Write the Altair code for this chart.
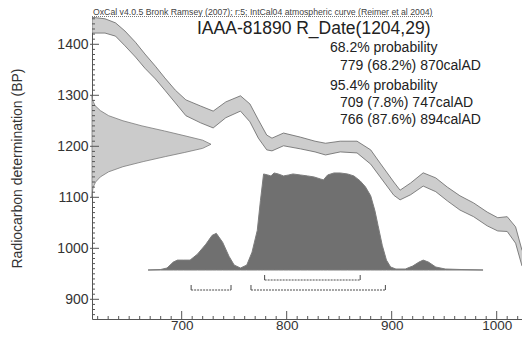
import altair as alt
import pandas as pd

# ---------------- data ----------------
# IntCal04 calibration band (calendar year AD, upper / lower BP)
cal_years = [614.6, 627, 637, 646, 656, 665, 675, 684, 694, 704, 718, 730, 742, 756,
             765, 773, 781, 786, 797, 813, 827, 837, 851, 867, 880, 889, 902, 908,
             918, 930, 942, 953, 965, 978, 991, 1001, 1010, 1018, 1024, 1032]
cal_upper = [1453, 1450, 1442, 1426, 1404, 1381, 1357, 1334, 1310, 1291, 1279, 1269, 1287, 1299,
             1283, 1252, 1222, 1216, 1226, 1218, 1210, 1206, 1210, 1210, 1193, 1167, 1130, 1114,
             1128, 1148, 1138, 1120, 1103, 1089, 1071, 1060, 1062, 1042, 997, 973]
cal_lower = [1422, 1422, 1416, 1397, 1375, 1353, 1332, 1310, 1285, 1260, 1246, 1236, 1256, 1269,
             1248, 1216, 1193, 1191, 1201, 1195, 1189, 1183, 1189, 1187, 1165, 1140, 1104, 1095,
             1105, 1122, 1111, 1093, 1075, 1062, 1044, 1034, 1033, 1010, 966, 942]

# Radiocarbon date distribution on the BP axis (relative density)
bp_levels = [1300, 1290, 1280, 1270, 1260, 1250, 1240, 1230, 1220, 1212, 1204,
             1196, 1188, 1180, 1170, 1160, 1150, 1140, 1130, 1120, 1110, 1100]
bp_density = [0.0, 0.006, 0.025, 0.07, 0.14, 0.26, 0.42, 0.61, 0.79, 0.93, 1.0,
              0.93, 0.78, 0.62, 0.43, 0.26, 0.14, 0.07, 0.03, 0.01, 0.003, 0.0]

# Calibrated date distribution (relative probability)
cd_years = [668, 680, 686, 692, 696, 702, 708, 715, 723, 729, 733, 739, 745, 750, 756,
            762, 767, 772, 775, 778, 782, 785, 788, 792, 797, 802, 806, 813, 820, 826,
            832, 835, 839, 845, 851, 858, 864, 870, 875, 880, 884, 887, 891, 895, 899,
            904, 913, 920, 926, 930, 935, 942, 951, 966, 987]
cd_prob = [0.0, 0.005, 0.02, 0.08, 0.10, 0.10, 0.10, 0.16, 0.26, 0.35, 0.37, 0.28, 0.14, 0.05, 0.02,
           0.05, 0.18, 0.40, 0.70, 0.97, 0.96, 0.95, 0.98, 0.97, 0.95, 0.96, 0.97, 0.96, 0.95, 0.94,
           0.92, 0.91, 0.96, 0.98, 0.98, 0.97, 0.95, 0.90, 0.84, 0.75, 0.60, 0.45, 0.25, 0.10, 0.03,
           0.01, 0.01, 0.04, 0.08, 0.10, 0.08, 0.03, 0.01, 0.005, 0.0]

# Highest probability ranges (cal AD)
r68_start = [779]
r68_end = [870]
r95_start = [709, 766]
r95_end = [747, 894]

# Axis ticks
x_major = [700, 800, 900, 1000]
y_major = [900, 1000, 1100, 1200, 1300, 1400]
x_minor = [v for v in range(620, 1021, 10) if v % 100 != 0]
y_minor = [v for v in range(870, 1451, 10) if v % 100 != 0]

header = "OxCal v4.0.5 Bronk Ramsey (2007); r:5; IntCal04 atmospheric curve (Reimer et al 2004)"
title = "IAAA-81890 R_Date(1204,29)"
lines_head = ["68.2% probability", "95.4% probability"]
lines_range = ["779 (68.2%) 870calAD", "709 (7.8%) 747calAD", "766 (87.6%) 894calAD"]

# ---------------- chart ----------------
W, H = 430, 302
FONT = "Liberation Sans"
AX = "#555555"

xs = alt.Scale(domain=[614.6, 1024.1], nice=False, zero=False)
ys = alt.Scale(domain=[861.4, 1453.5], nice=False, zero=False)

band_df = pd.DataFrame({"year": cal_years, "upper": cal_upper, "lower": cal_lower})
band = alt.Chart(band_df).mark_area(
    fill="#cdcdcd", stroke="#666666", strokeWidth=0.8, clip=True
).encode(
    x=alt.X("year:Q", scale=xs, title=None,
            axis=alt.Axis(values=x_major, ticks=False, grid=False, domainColor=AX,
                          labelFont=FONT, labelFontSize=13.5, labelColor="#333",
                          labelPadding=-1, format="d")),
    y=alt.Y("upper:Q", scale=ys,
            axis=alt.Axis(values=y_major, ticks=False, grid=False, domainColor=AX,
                          labelFont=FONT, labelFontSize=14, labelColor="#333",
                          labelPadding=4, format="d",
                          title="Radiocarbon determination (BP)",
                          titleFont=FONT, titleFontSize=14, titleFontWeight="normal",
                          titleColor="#333", titleX=-75, titleY=H / 2, titleAngle=270,
                          titleAlign="center", titleBaseline="middle")),
    y2="lower:Q",
)

bp_df = pd.DataFrame({"bp": bp_levels, "d": bp_density})
bp_area = alt.Chart(bp_df).mark_area(
    orient="horizontal", fill="#cbcbcb", stroke="#7a7a7a", strokeWidth=0.8
).encode(
    y=alt.Y("bp:Q", scale=ys, axis=None),
    x=alt.X("d:Q", scale=alt.Scale(domain=[0, 1], range=[0, 119], nice=False), axis=None, stack=None),
)

cd_df = pd.DataFrame({"year": cd_years, "p": cd_prob})
cd_area = alt.Chart(cd_df).mark_area(
    fill="#707070", stroke="#7c7c7c", strokeWidth=1
).encode(
    x=alt.X("year:Q", scale=xs, axis=None),
    y=alt.Y("p:Q", scale=alt.Scale(domain=[0, 1], range=[253, 154], nice=False), axis=None, stack=None),
)

r68_df = pd.DataFrame({"s": r68_start, "e": r68_end})
r95_df = pd.DataFrame({"s": r95_start, "e": r95_end})
BR = "#4a4a4a"
r68_line = alt.Chart(r68_df).mark_rule(color=BR, strokeWidth=1, strokeDash=[2, 1]).encode(
    x=alt.X("s:Q", scale=xs, axis=None), x2="e:Q", y=alt.value(263))
r95_line = alt.Chart(r95_df).mark_rule(color=BR, strokeWidth=1, strokeDash=[2, 1]).encode(
    x=alt.X("s:Q", scale=xs, axis=None), x2="e:Q", y=alt.value(273))
r68_ends = alt.Chart(pd.DataFrame({"v": r68_start + r68_end})).mark_rule(color=BR).encode(
    x=alt.X("v:Q", scale=xs, axis=None), y=alt.value(258), y2=alt.value(263))
r95_ends = alt.Chart(pd.DataFrame({"v": r95_start + r95_end})).mark_rule(color=BR).encode(
    x=alt.X("v:Q", scale=xs, axis=None), y=alt.value(268), y2=alt.value(273))

# inward axis ticks
xt_minor = alt.Chart(pd.DataFrame({"t": x_minor})).mark_rule(color=AX).encode(
    x=alt.X("t:Q", scale=xs, axis=None), y=alt.value(H), y2=alt.value(H - 3))
xt_major = alt.Chart(pd.DataFrame({"t": x_major})).mark_rule(color=AX).encode(
    x=alt.X("t:Q", scale=xs, axis=None), y=alt.value(H), y2=alt.value(H - 8))
yt_minor = alt.Chart(pd.DataFrame({"t": y_minor})).mark_rule(color=AX).encode(
    y=alt.Y("t:Q", scale=ys, axis=None), x=alt.value(0), x2=alt.value(3))
yt_major = alt.Chart(pd.DataFrame({"t": y_major})).mark_rule(color=AX).encode(
    y=alt.Y("t:Q", scale=ys, axis=None), x=alt.value(-2), x2=alt.value(7))

# texts
hdr = alt.Chart(pd.DataFrame({"t": [header]})).mark_text(
    align="left", baseline="middle", font=FONT, fontSize=8.7, color="#444"
).encode(x=alt.value(1), y=alt.value(-5.5), text="t:N")
hdr_line = alt.Chart(pd.DataFrame({"t": [header]})).mark_rule(
    color="#777", strokeWidth=1, strokeDash=[1, 1]
).encode(x=alt.value(0), x2=alt.value(341), y=alt.value(-0.5))

ttl = alt.Chart(pd.DataFrame({"t": [title]})).mark_text(
    align="left", baseline="middle", font=FONT, fontSize=17.5, color="#222"
).encode(x=alt.value(105), y=alt.value(12), text="t:N")

head_df = pd.DataFrame({"t": lines_head, "yy": [31, 69]})
range_df = pd.DataFrame({"t": lines_range, "yy": [49, 86, 103]})
heads = alt.Chart(head_df).mark_text(
    align="left", baseline="middle", font=FONT, fontSize=14, color="#222"
).encode(x=alt.value(238), y=alt.Y("yy:Q", scale=alt.Scale(domain=[0, H], range=[0, H]), axis=None), text="t:N")
ranges = alt.Chart(range_df).mark_text(
    align="left", baseline="middle", font=FONT, fontSize=14, color="#222"
).encode(x=alt.value(248), y=alt.Y("yy:Q", scale=alt.Scale(domain=[0, H], range=[0, H]), axis=None), text="t:N")

chart = alt.layer(
    band, bp_area, cd_area,
    r68_line, r95_line, r68_ends, r95_ends,
    xt_minor, xt_major, yt_minor, yt_major,
    hdr, hdr_line, ttl, heads, ranges,
).resolve_scale(
    x="independent", y="independent"
).properties(
    width=W, height=H,
    padding={"left": 84, "top": 9, "right": 0, "bottom": 12},
    autosize=alt.AutoSizeParams(type="none"),
    background="white",
).configure_view(strokeWidth=0)

chart.save("out.html", embed_options={"renderer": "svg", "actions": False})
